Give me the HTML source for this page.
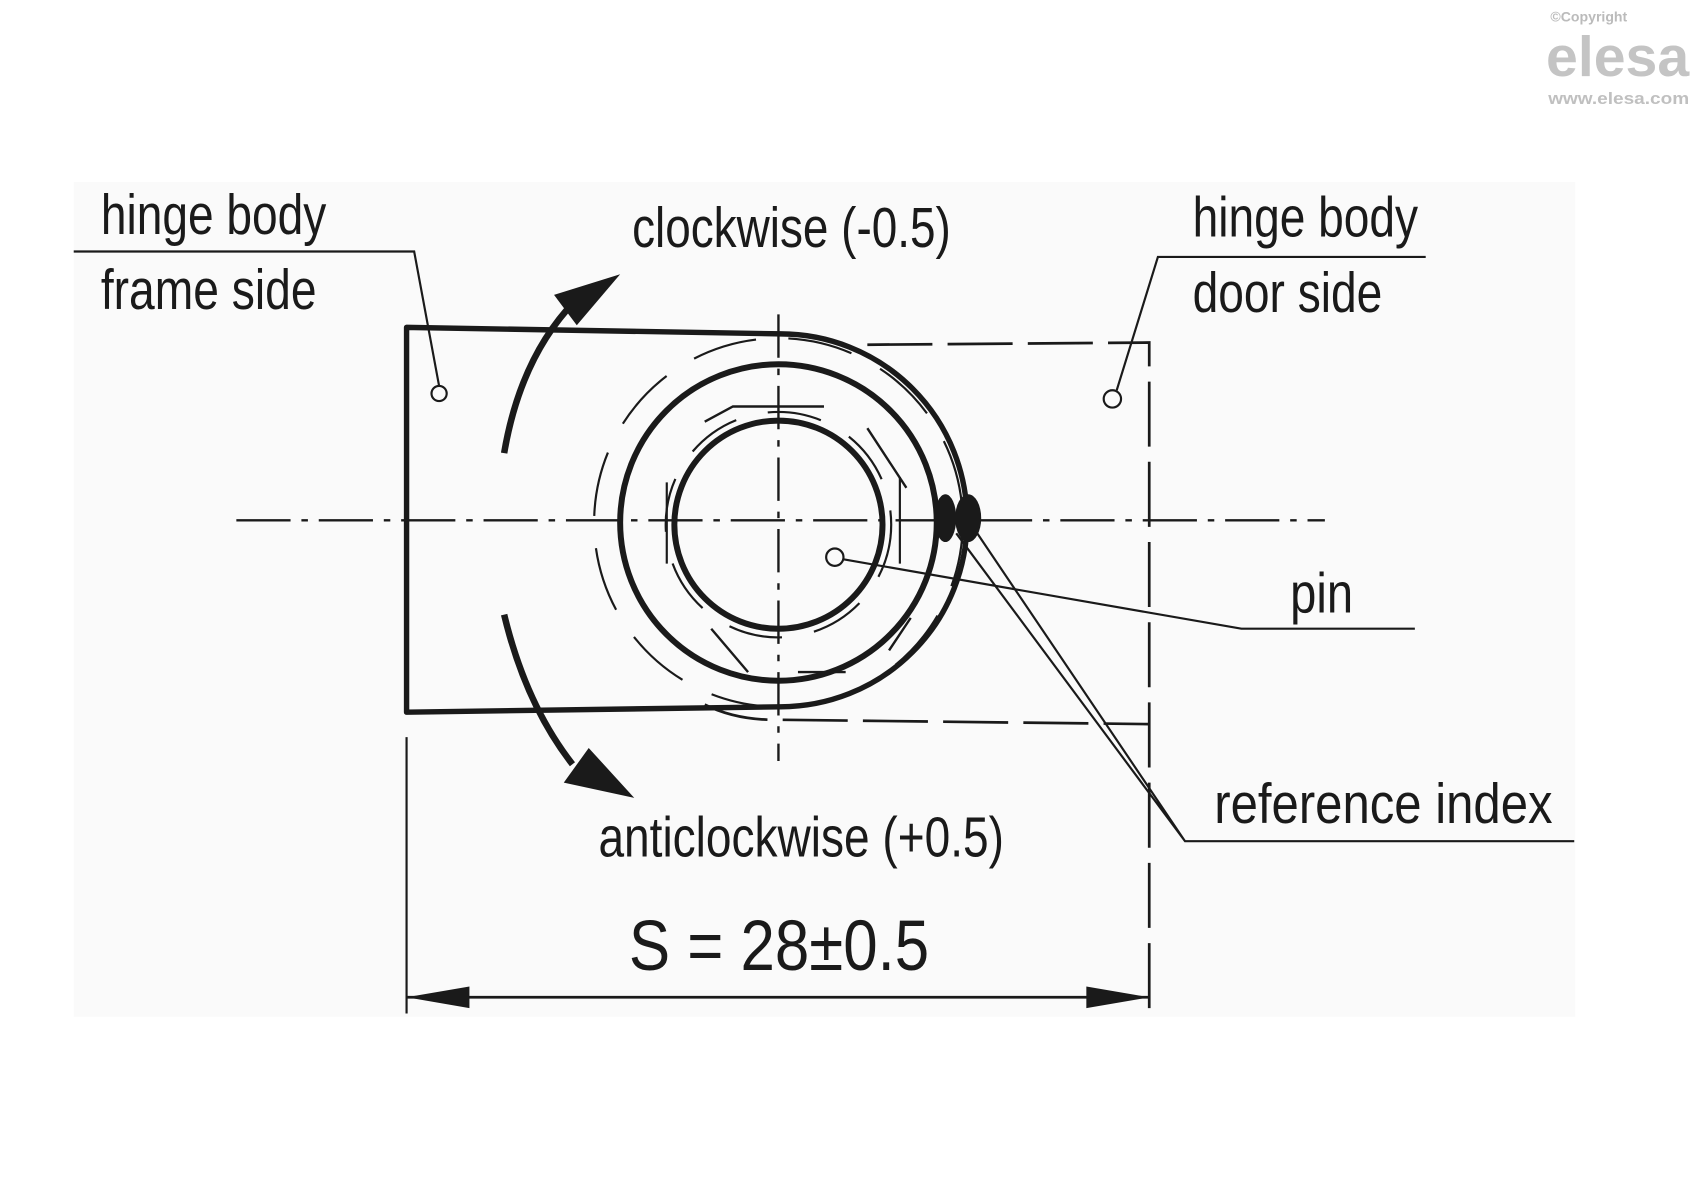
<!DOCTYPE html>
<html><head><meta charset="utf-8"><style>
html,body{margin:0;padding:0;background:#fff;}
svg{display:block;}
text{font-family:"Liberation Sans",sans-serif;fill:#1a1a1a;}
</style></head><body>
<svg width="1700" height="1200" viewBox="0 0 1568 1107" preserveAspectRatio="none" xmlns="http://www.w3.org/2000/svg">
<rect x="0" y="0" width="1568" height="1107" fill="#fff"/>
<rect x="68" y="168" width="1385" height="770" fill="#fafafa"/>
<!-- logo -->
<text x="1430" y="20" font-size="13" fill="#bbb" style="fill:#bbb;font-weight:bold">©Copyright</text>
<text x="1426" y="70" font-size="52" style="fill:#c4c4c4;font-weight:bold" textLength="132" lengthAdjust="spacingAndGlyphs">elesa</text>
<text x="1428" y="96" font-size="15" style="fill:#c0c0c0;font-weight:bold" textLength="130" lengthAdjust="spacingAndGlyphs">www.elesa.com</text>

<g fill="none" stroke="#1a1a1a">
<!-- center lines -->
<line x1="218" y1="480" x2="1222" y2="480" stroke-width="2.2" stroke-dasharray="50,10,6,10"/>
<line x1="718" y1="290" x2="718" y2="702" stroke-width="2.2" stroke-dasharray="40,10,6,10"/>
<!-- door side dashed rect -->
<path d="M800 318 L1060 316 L1060 932" stroke-width="2.5" stroke-dasharray="60,14"/>
<path d="M650 650 Q680 665 720 664 L1060 668" stroke-width="2.5" stroke-dasharray="60,14"/>
<!-- frame body -->
<path d="M375 302 L375 657 L720 652 A172 172 0 0 0 720 308 Z" stroke-width="5" stroke-linejoin="round"/>
<!-- circles -->
<circle cx="718" cy="482" r="146" stroke-width="5.5"/>
<circle cx="718" cy="484" r="96" stroke-width="5.5"/>
<circle cx="718" cy="482" r="170" stroke-width="2" stroke-dasharray="60,30"/>
<circle cx="718" cy="484" r="104" stroke-width="2" stroke-dasharray="50,30"/>
<path d="M650 389 L676 375 L760 375 M800 395 L836 450 M656 580 L690 620 M736 620 L780 620 M820 600 L840 570" stroke-width="2.2"/>
<line x1="615" y1="445" x2="615" y2="520" stroke-width="2"/>
<line x1="830" y1="440" x2="830" y2="520" stroke-width="2"/>
<!-- small circles -->
<circle cx="405" cy="363" r="7" stroke-width="2"/>
<circle cx="1026" cy="368" r="8" stroke-width="2"/>
<circle cx="770" cy="514" r="8" stroke-width="2"/>
<!-- leaders -->
<path d="M68 232 L382 232 L405 356" stroke-width="2"/>
<path d="M1315 237 L1068 237 L1030 360" stroke-width="2"/>
<path d="M778 516 L1145 580 L1305 580" stroke-width="2"/>
<path d="M882 492 L1093 776 L1452 776 M900 490 L1093 776" stroke-width="2"/>
<!-- arrows arcs -->
<path d="M465 418 Q480 330 530 278" stroke-width="6"/>
<path d="M465 567 Q485 650 528 705" stroke-width="6"/>
<!-- dimension -->
<line x1="375" y1="680" x2="375" y2="935" stroke-width="2"/>
<line x1="375" y1="920" x2="1060" y2="920" stroke-width="2.5"/>
</g>
<g fill="#1a1a1a">
<path d="M572 253 L511 272 L532 300 Z"/>
<path d="M585 736 L520 722 L543 690 Z"/>
<path d="M375 920 L433 910 L433 930 Z"/>
<path d="M1060 920 L1002 910 L1002 930 Z"/>
<ellipse cx="872" cy="478" rx="10" ry="22"/>
<ellipse cx="893" cy="478" rx="12" ry="22"/>
</g>
<!-- labels -->
<text x="93" y="216" font-size="52" textLength="208" lengthAdjust="spacingAndGlyphs">hinge body</text>
<text x="93" y="285" font-size="52" textLength="199" lengthAdjust="spacingAndGlyphs">frame side</text>
<text x="583" y="228" font-size="52" textLength="294" lengthAdjust="spacingAndGlyphs">clockwise (-0.5)</text>
<text x="1100" y="218" font-size="52" textLength="208" lengthAdjust="spacingAndGlyphs">hinge body</text>
<text x="1100" y="288" font-size="52" textLength="175" lengthAdjust="spacingAndGlyphs">door side</text>
<text x="1190" y="565" font-size="52" textLength="58" lengthAdjust="spacingAndGlyphs">pin</text>
<text x="1120" y="759" font-size="52" textLength="312" lengthAdjust="spacingAndGlyphs">reference index</text>
<text x="552" y="790" font-size="52" textLength="374" lengthAdjust="spacingAndGlyphs">anticlockwise (+0.5)</text>
<text x="580" y="895" font-size="66" textLength="277" lengthAdjust="spacingAndGlyphs">S = 28±0.5</text>
</svg>
</body></html>
